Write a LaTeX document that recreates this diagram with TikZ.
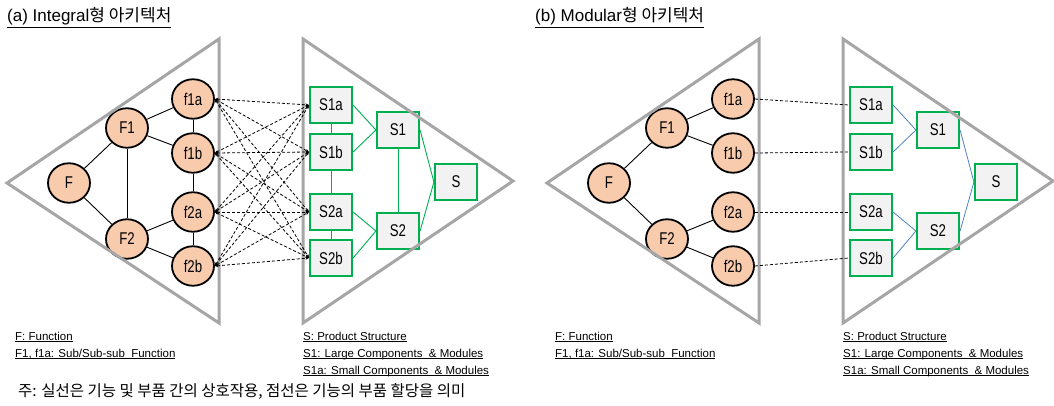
\documentclass[tikz,border=0pt]{standalone}
\usepackage{fontspec}
\setmainfont{Liberation Sans}
\newfontfamily\krfont{Noto Sans CJK KR}
\newfontfamily\lblfont[FakeStretch=0.78]{Liberation Sans}
\usetikzlibrary{shapes.geometric,arrows.meta}

\definecolor{peach}{HTML}{F8CBAD}
\definecolor{boxgray}{HTML}{F2F2F2}
\definecolor{boxgreen}{HTML}{00B050}
\definecolor{framegray}{HTML}{A6A6A6}
\definecolor{linkblue}{HTML}{4F81BD}

% underline at a fixed depth below the baseline
\newcommand\ulbase[1]{\underline{\smash{#1}}}

\tikzset{
  func/.style={ellipse, draw=black, line width=1.8pt, fill=peach,
    minimum width=42pt, minimum height=39.5pt, inner sep=0pt,
    font=\lblfont\fontsize{17}{17}\selectfont},
  part/.style={rectangle, draw=boxgreen, line width=2.2pt, fill=boxgray,
    minimum width=42pt, minimum height=36.5pt, inner sep=0pt,
    font=\lblfont\fontsize{17}{17}\selectfont},
  frame/.style={draw=framegray, line width=3pt, line join=miter},
  tie/.style={black, line width=0.9pt},
  glink/.style={boxgreen, line width=0.9pt},
  blink/.style={linkblue, line width=0.8pt},
  alloc/.style={black, line width=0.8pt, dash pattern=on 3pt off 2pt},
  alloctip/.style={alloc, {Stealth[length=3.5pt,width=3pt]}-{Stealth[length=3.5pt,width=3pt]}},
  legend/.style={anchor=base west, inner sep=0pt, font=\fontsize{11.5}{12}\selectfont},
  heading/.style={anchor=base west, inner sep=0pt, font=\fontsize{17}{17}\selectfont},
}

% nodes, frames and legend shared by both architectures; #1 is the name prefix
\newcommand\panelparts[1]{%
  \node[func] (#1F)   at (69,183)  {F};
  \node[func] (#1F1)  at (127,128) {F1};
  \node[func] (#1F2)  at (127,239) {F2};
  \node[func] (#1f1a) at (193,99)  {f1a};
  \node[func] (#1f1b) at (193,153) {f1b};
  \node[func] (#1f2a) at (193,212) {f2a};
  \node[func] (#1f2b) at (193,266) {f2b};
  \node[part] (#1S1a) at (331,105) {S1a};
  \node[part] (#1S1b) at (331,152) {S1b};
  \node[part] (#1S2a) at (331,212) {S2a};
  \node[part] (#1S2b) at (331,258) {S2b};
  \node[part] (#1S1)  at (398,130) {S1};
  \node[part] (#1S2)  at (398,231) {S2};
  \node[part] (#1S)   at (456,182) {S};
  \draw[frame] (7,183) -- (219,39) -- (219,323) -- cycle;
  \draw[frame] (303,39) -- (513,181) -- (303,323) -- cycle;
  \node[legend] (#1legF)  at (15,340)  {\ulbase{F: Function}};
  \node[legend] (#1legFa) at (15,357)  {\ulbase{F1, f1a: Sub/Sub-sub\ \ Function}};
  \node[legend] (#1legS)  at (303,340) {\ulbase{S: Product Structure}};
  \node[legend] (#1legS1) at (303,357) {\ulbase{S1: Large Components\ \ \& Modules}};
  \node[legend] (#1legSa) at (303,374) {\ulbase{S1a: Small Components\ \ \& Modules}};
  \draw[tie] (#1F) -- (#1F1);
  \draw[tie] (#1F) -- (#1F2);
  \draw[tie] (#1F1) -- (#1f1a);
  \draw[tie] (#1F1) -- (#1f1b);
  \draw[tie] (#1F2) -- (#1f2a);
  \draw[tie] (#1F2) -- (#1f2b);
}

\begin{document}
\begin{tikzpicture}[x=1pt, y=-1pt]
\useasboundingbox (0,0) rectangle (1054,406);

% (a) integral architecture
\node[heading] (titleA) at (7,22) {\underline{(a) Integral{\krfont 형 아키텍처}}};
\begin{scope}
  \panelparts{a}
  \draw[tie] (aF1) -- (aF2);
  \draw[tie] (af1a) -- (af1b);
  \draw[tie] (af1b) -- (af2a);
  \draw[tie] (af2a) -- (af2b);
  \draw[glink] (aS1a.east) -- (aS1.west);
  \draw[glink] (aS1b.east) -- (aS1.west);
  \draw[glink] (aS2a.east) -- (aS2.west);
  \draw[glink] (aS2b.east) -- (aS2.west);
  \draw[glink] (aS1.east) -- (aS.west);
  \draw[glink] (aS2.east) -- (aS.west);
  \draw[glink] (aS1a) -- (aS1b);
  \draw[glink] (aS1b) -- (aS2a);
  \draw[glink] (aS2a) -- (aS2b);
  \draw[glink] (aS1) -- (aS2);
  \foreach \f in {f1a,f1b,f2a,f2b}
    \foreach \s in {S1a,S1b,S2a,S2b}
      \draw[alloctip] (a\f.east) -- (a\s.west);
\end{scope}

% (b) modular architecture
\node[heading] (titleB) at (535,22) {\underline{(b) Modular{\krfont 형 아키텍처}}};
\begin{scope}[xshift=540pt]
  \panelparts{b}
  \draw[blink] (bS1a.east) -- (bS1.west);
  \draw[blink] (bS1b.east) -- (bS1.west);
  \draw[blink] (bS2a.east) -- (bS2.west);
  \draw[blink] (bS2b.east) -- (bS2.west);
  \draw[blink] (bS1.east) -- (bS.west);
  \draw[blink] (bS2.east) -- (bS.west);
  \draw[alloc] (bf1a.east) -- (bS1a.west);
  \draw[alloc] (bf1b.east) -- (bS1b.west);
  \draw[alloc] (bf2a.east) -- (bS2a.west);
  \draw[alloc] (bf2b.east) -- (bS2b.west);
\end{scope}

\node[anchor=west, inner sep=0pt, font=\krfont\fontsize{15.5}{15.5}\selectfont] (note) at (18,391)
  {주: 실선은 기능 및 부품 간의 상호작용, 점선은 기능의 부품 할당을 의미};
\end{tikzpicture}
\end{document}
